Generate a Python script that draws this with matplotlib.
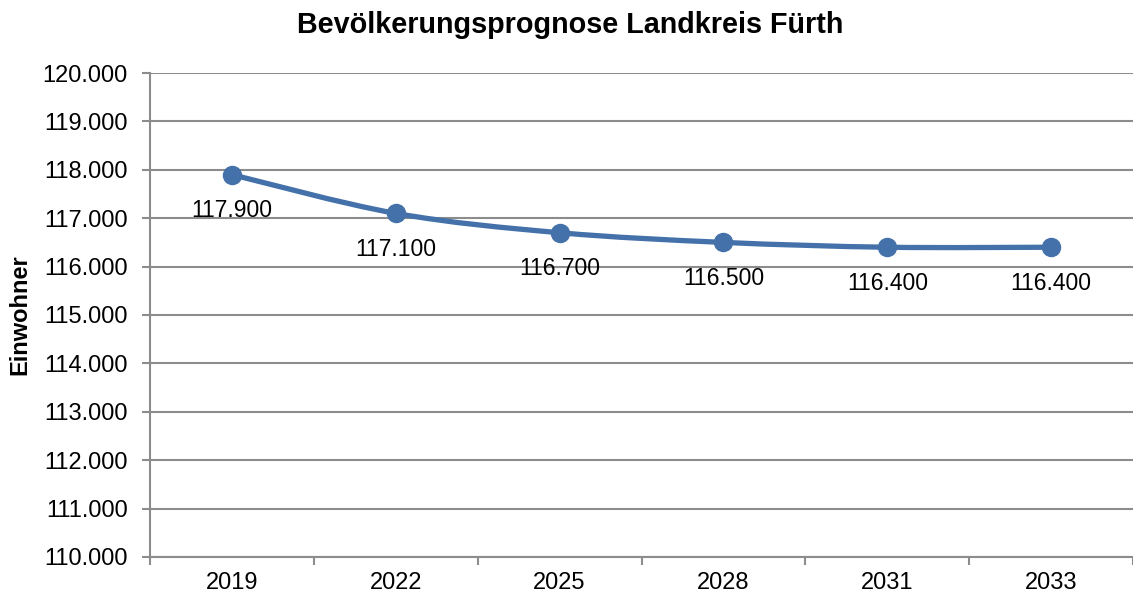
import numpy as np
import matplotlib
matplotlib.use("Agg")
import matplotlib.pyplot as plt
from matplotlib.path import Path
from matplotlib.patches import PathPatch
from matplotlib.ticker import FixedLocator

plt.rcParams['font.family'] = ['Liberation Sans', 'DejaVu Sans']

# data
years = ['2019', '2022', '2025', '2028', '2031', '2033']
einwohner = [117900, 117100, 116700, 116500, 116400, 116400]
labels = ['117.900', '117.100', '116.700', '116.500', '116.400', '116.400']

color = '#4471a9'
grid = '#8c8c8c'

fig = plt.figure(figsize=(11.33, 5.94), dpi=100)
ax = fig.add_axes([0.1324, 0.0623, 0.8676, 0.8148])

x = np.arange(len(years))
y = np.array(einwohner, dtype=float)

# smoothed line like Excel (catmull-rom as bezier segments)
verts = [(x[0], y[0])]
codes = [Path.MOVETO]
n = len(x)
for i in range(n - 1):
    p0 = np.array([x[max(i - 1, 0)], y[max(i - 1, 0)]])
    p1 = np.array([x[i], y[i]])
    p2 = np.array([x[i + 1], y[i + 1]])
    p3 = np.array([x[min(i + 2, n - 1)], y[min(i + 2, n - 1)]])
    c1 = p1 + (p2 - p0) / 6
    c2 = p2 - (p3 - p1) / 6
    verts += [tuple(c1), tuple(c2), tuple(p2)]
    codes += [Path.CURVE4] * 3
ax.add_patch(PathPatch(Path(verts, codes), fill=False, edgecolor=color, lw=3.8,
                       capstyle='round', joinstyle='round', zorder=3))
ax.plot(x, y, 'o', color=color, markersize=13, zorder=4)

for xi, yi, lab in zip(x, y, labels):
    ax.annotate(lab, (xi, yi), xytext=(0, -36), textcoords='offset pixels',
                ha='center', va='center', fontsize=16.5, color='black', zorder=5)

ax.set_xlim(-0.5, len(years) - 0.5)
ax.set_ylim(110000, 120000)
ax.set_yticks(np.arange(110000, 120001, 1000))
ax.set_yticklabels([f"{v // 1000}.000" for v in range(110000, 120001, 1000)])
ax.yaxis.grid(True, color=grid, lw=1.5)
ax.set_axisbelow(True)

ax.set_xticks(x)
ax.set_xticklabels(years)
ax.xaxis.set_minor_locator(FixedLocator(np.arange(-0.5, len(years), 1.0)))
ax.tick_params(axis='x', which='major', length=0, pad=11, labelsize=17)
ax.tick_params(axis='x', which='minor', length=6, width=1.5, color=grid)
ax.tick_params(axis='y', length=6, width=1.5, color=grid, labelsize=17, pad=10)

for side in ['top', 'right']:
    ax.spines[side].set_visible(False)
for side in ['left', 'bottom']:
    ax.spines[side].set_color(grid)
    ax.spines[side].set_linewidth(1.5)

ax.set_ylabel('Einwohner', fontsize=17, fontweight='bold')
ax.yaxis.set_label_coords((20 - 150) / 983, 0.5)
ax.yaxis.label.set_verticalalignment('center')
fig.text(0.503, 0.958, 'Bevölkerungsprognose Landkreis Fürth', ha='center', va='center',
         fontsize=20.7, fontweight='bold')

fig.savefig('out.png', dpi=100)
